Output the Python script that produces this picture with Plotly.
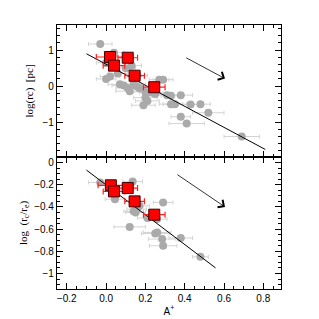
import plotly.graph_objects as go
from plotly.subplots import make_subplots

# ---- data (top panel: log rc [pc]) ----
grey_top_x = [-0.03, 0.04, 0.0, 0.0, 0.02, 0.07, 0.09, 0.11, 0.13, 0.10, 0.14, 0.155, 0.17, 0.12,
              0.20, 0.20, 0.21, 0.19, 0.27, 0.29, 0.23, 0.25, 0.31, 0.35, 0.38, 0.33, 0.33,
              0.43, 0.48, 0.52, 0.38, 0.41, 0.69, 0.06, 0.16]
grey_top_y = [1.17, 0.93, 0.65, 0.20, 0.27, 0.05, 0.02, -0.05, 0.57, 0.50, 0.05, 0.0, -0.06, -0.14,
              -0.16, -0.32, -0.41, -0.53, 0.18, 0.18, -0.18, -0.22, -0.25, -0.50, -0.25, -0.27, -0.50,
              -0.51, -0.50, -0.74, -0.85, -1.04, -1.40, 0.35, 0.30]
grey_top_err = [0.06, 0.05, 0.05, 0.05, 0.05, 0.06, 0.06, 0.06, 0.05, 0.05, 0.06, 0.06, 0.06, 0.07,
                0.06, 0.06, 0.06, 0.06, 0.05, 0.05, 0.06, 0.06, 0.06, 0.06, 0.06, 0.05, 0.06,
                0.06, 0.05, 0.08, 0.05, 0.09, 0.09, 0.05, 0.05]

red_top_x = [0.02, 0.11, 0.04, 0.145, 0.245]
red_top_y = [0.81, 0.79, 0.57, 0.29, -0.03]
red_top_err = [0.07, 0.05, 0.055, 0.05, 0.055]

fit_top_x = [-0.10, 0.81]
fit_top_y = [0.90, -1.76]
arrow_top = [0.40, 0.81, 0.605, 0.21]

# ---- data (bottom panel: log rc/re) ----
grey_bot_x = [-0.03, 0.135, 0.045, 0.15, 0.155, 0.21, 0.26, 0.29, 0.12, 0.25, 0.26, 0.285, 0.29,
              0.38, 0.48, 0.17, 0.14]
grey_bot_y = [-0.18, -0.17, -0.33, -0.45, -0.42, -0.50, -0.51, -0.36, -0.58, -0.64, -0.63, -0.69,
              -0.75, -0.68, -0.85, -0.39, -0.44]
grey_bot_err = [0.06, 0.05, 0.05, 0.05, 0.05, 0.05, 0.05, 0.05, 0.08, 0.07, 0.07, 0.07, 0.07,
                0.06, 0.04, 0.05, 0.05]

red_bot_x = [0.024, 0.04, 0.11, 0.145, 0.245]
red_bot_y = [-0.205, -0.26, -0.23, -0.35, -0.47]
red_bot_err = [0.065, 0.055, 0.05, 0.05, 0.055]

fit_bot_x = [-0.10, 0.557]
fit_bot_y = [-0.068, -0.95]
arrow_bot = [0.355, -0.10, 0.605, -0.40]

fig = make_subplots(rows=2, cols=1, shared_xaxes=True, vertical_spacing=0)

def add_panel(row, gx, gy, ge, rx, ry, re, fx, fy):
    fig.add_trace(go.Scatter(x=gx, y=gy, mode='markers',
                             error_x=dict(type='data', array=ge, color='#d3d3d3', thickness=1, width=2),
                             marker=dict(color='#aaaaaa', size=8), showlegend=False), row=row, col=1)
    fig.add_trace(go.Scatter(x=fx, y=fy, mode='lines', line=dict(color='black', width=1),
                             showlegend=False), row=row, col=1)
    fig.add_trace(go.Scatter(x=rx, y=ry, mode='markers',
                             error_x=dict(type='data', array=re, color='#ff2020', thickness=1.2, width=3),
                             marker=dict(color='#ff0000', size=11, symbol='square',
                                         line=dict(color='#400000', width=1)),
                             showlegend=False), row=row, col=1)

add_panel(1, grey_top_x, grey_top_y, grey_top_err, red_top_x, red_top_y, red_top_err, fit_top_x, fit_top_y)
add_panel(2, grey_bot_x, grey_bot_y, grey_bot_err, red_bot_x, red_bot_y, red_bot_err, fit_bot_x, fit_bot_y)

for ref, a in (('', arrow_top), ('2', arrow_bot)):
    fig.add_annotation(x=a[2], y=a[3], ax=a[0], ay=a[1], xref='x' + ref, yref='y' + ref,
                       axref='x' + ref, ayref='y' + ref, showarrow=True, arrowhead=4,
                       arrowsize=2.2, arrowwidth=0.8, arrowcolor='black', text='')

axis_common = dict(showline=True, linecolor='black', linewidth=1.2, mirror='ticks', ticks='inside',
                   ticklen=6, tickcolor='black', showgrid=False, zeroline=False,
                   tickfont=dict(family='Liberation Sans', size=10, color='black'))

fig.update_xaxes(range=[-0.25, 0.89], dtick=0.2, tick0=0,
                 minor=dict(dtick=0.05, ticks='inside', ticklen=3, tickcolor='black'), **axis_common)
fig.update_xaxes(showticklabels=False, row=1, col=1)
fig.update_xaxes(title=dict(text='A<sup>+</sup>', font=dict(family='Liberation Sans', size=10, color='black'),
                            standoff=4), tickformat='.1f', row=2, col=1)
fig.update_yaxes(range=[-1.97, 1.70], dtick=1, tick0=0,
                 minor=dict(dtick=0.2, ticks='inside', ticklen=3, tickcolor='black'),
                 title=dict(text='log(rc)  [pc]', font=dict(family='Liberation Serif', size=11, color='black'),
                            standoff=6), row=1, col=1, **axis_common)
fig.update_yaxes(range=[-1.14, 0.05], dtick=0.2, tick0=0,
                 minor=dict(dtick=0.05, ticks='inside', ticklen=3, tickcolor='black'),
                 title=dict(text='log  (r<sub>c</sub>/r<sub>e</sub>)',
                            font=dict(family='Liberation Serif', size=11, color='black'), standoff=4),
                 row=2, col=1, **axis_common)

fig.update_layout(width=319, height=319, margin=dict(l=49, r=46, t=17, b=30),
                  paper_bgcolor='white', plot_bgcolor='white',
                  font=dict(family='Liberation Sans', size=10, color='black'))
fig.write_html("out.html")
